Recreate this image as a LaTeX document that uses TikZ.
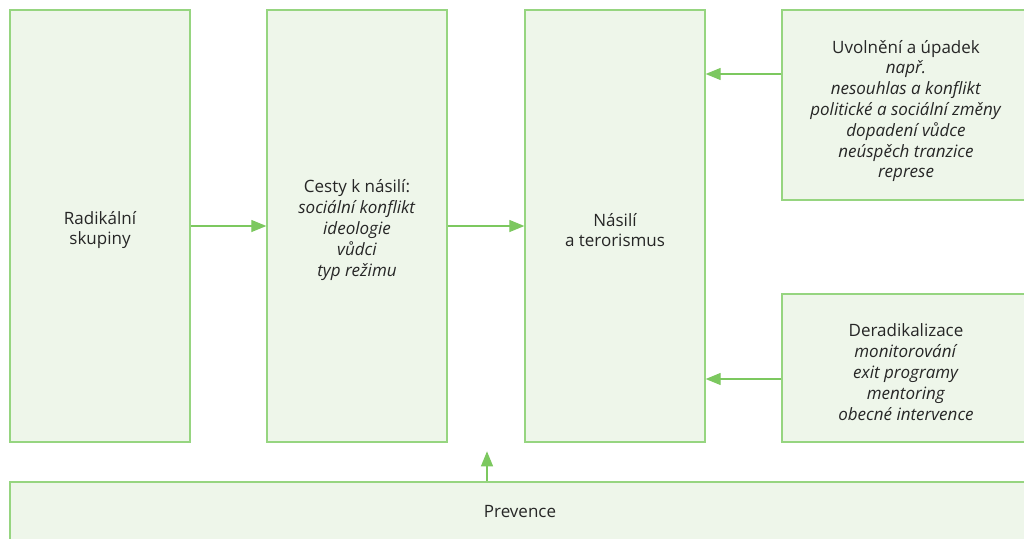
\documentclass[tikz,border=0pt]{standalone}
\usepackage{fontspec}
\setmainfont{Open Sans}
\usetikzlibrary{arrows.meta}

\definecolor{boxfill}{HTML}{EEF6EA}
\definecolor{boxline}{HTML}{96D580}
\definecolor{arrowgreen}{HTML}{7CC85F}
\definecolor{textgray}{HTML}{262626}

\newcommand{\dropline}[1]{\rule{0pt}{#1}}

\tikzset{
  stage/.style={draw=boxline, fill=boxfill, line width=1.3pt, align=center,
    text=textgray, font=\fontsize{17}{20.8}\selectfont, inner sep=0pt},
  arr/.style={draw=arrowgreen, line width=1.2pt, -{Triangle[length=15pt,width=12pt]}}
}

\begin{document}
\begin{tikzpicture}[x=1pt,y=-1pt]
\useasboundingbox (0,0) rectangle (1024,538);
\clip (0,0) rectangle (1024,538);
%\draw[step=50,gray,very thin] (0,0) grid (1024,538); %background grid

\node[stage, minimum width=180pt, minimum height=432pt] (rad) at (100,226) {\dropline{21pt}Radikální\\skupiny};
\node[stage, minimum width=180pt, minimum height=432pt] (cesty) at (357,226)
  {\dropline{21pt}Cesty k násilí:\\\textit{sociální konflikt}\\\textit{ideologie}\\\textit{vůdci}\\\textit{typ režimu}};
\node[stage, minimum width=180pt, minimum height=432pt] (nasili) at (615,226) {\dropline{21pt}Násilí\\a terorismus};

\node[stage, minimum width=248pt, minimum height=190pt] (uvolneni) at (906,105)
  {\dropline{25pt}Uvolnění a úpadek\\\textit{např.}\\\textit{nesouhlas a konflikt}\\\textit{politické a sociální změny}\\
   \textit{dopadení vůdce}\\\textit{neúspěch tranzice}\\\textit{represe}};
\node[stage, minimum width=248pt, minimum height=148pt] (derad) at (906,368)
  {\dropline{21pt}Deradikalizace\\\textit{monitorování}\\\textit{exit programy}\\\textit{mentoring}\\\textit{obecné intervence}};

\node[stage, minimum width=1020pt, minimum height=60pt] (prevence) at (520,512) {Prevence};

\draw[arr] (rad) -- (cesty);
\draw[arr] (cesty) -- (nasili);
\draw[arr] ([yshift=31pt]uvolneni.west) -- ([yshift=31pt]uvolneni.west -| nasili.east);
\draw[arr] ([yshift=-11pt]derad.west) -- ([yshift=-11pt]derad.west -| nasili.east);
\draw[arr] ([xshift=-33pt]prevence.north) -- ++(0,-30);

\end{tikzpicture}
\end{document}
